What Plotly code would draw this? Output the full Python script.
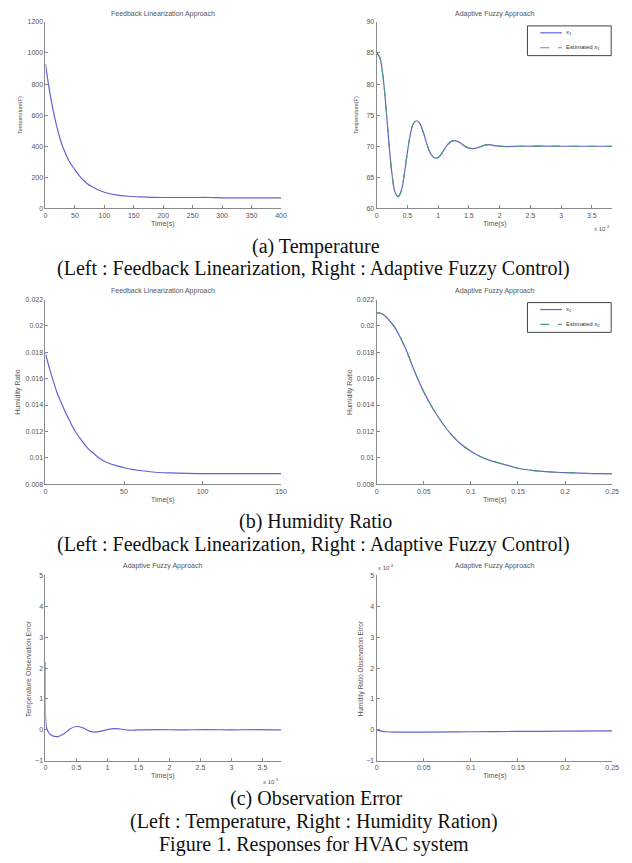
import plotly.graph_objects as go

# ---------------- data ----------------
# (a) left: feedback linearization temperature
fl_temp_t = [0, 5, 10, 15, 20, 25, 30, 40, 50, 60, 70, 80, 90, 100, 120, 140, 160, 180, 200, 250, 280, 300, 350, 400]
fl_temp_v = [930, 800, 690, 595, 515, 445, 390, 305, 248, 198, 162, 137, 118, 104, 87, 78, 74, 71, 70, 70, 70, 68, 68, 68]

# (a) right: adaptive fuzzy temperature (time in units of 1e-3)
af_temp_t = [0, 0.05, 0.1, 0.15, 0.2, 0.25, 0.3, 0.35, 0.4, 0.45, 0.5, 0.55, 0.6, 0.65, 0.7, 0.75, 0.8,
             0.85, 0.9, 0.95, 1.0, 1.05, 1.1, 1.15, 1.2, 1.27, 1.35, 1.45, 1.55, 1.65, 1.75, 1.83,
             1.95, 2.1, 2.3, 2.6, 3.0, 3.5, 3.83]
af_temp_x1 = [85, 84.3, 81.5, 76.5, 70.5, 65.5, 62.6, 61.9, 62.8, 65.5, 69, 72, 73.7, 74.1, 73.7, 72.5, 70.9,
              69.4, 68.5, 68.1, 68.2, 68.7, 69.5, 70.2, 70.7, 70.9, 70.6, 69.9, 69.6, 69.8, 70.15, 70.25,
              70.05, 69.95, 70.0, 70.02, 70.0, 70.0, 70.0]
af_temp_est = [85, 84.3, 81.5, 76.5, 70.5, 65.5, 62.6, 61.9, 62.8, 65.5, 69, 72, 73.7, 74.1, 73.7, 72.5, 70.9,
               69.4, 68.5, 68.1, 68.2, 68.7, 69.5, 70.2, 70.7, 70.9, 70.6, 69.9, 69.6, 69.8, 70.15, 70.25,
               70.05, 69.95, 70.0, 70.02, 70.0, 70.0, 70.0]

# (b) left: feedback linearization humidity ratio
fl_hum_t = [0, 2.5, 5, 7.5, 10, 12.5, 15, 17.5, 20, 22.5, 25, 27.5, 30, 35, 40, 45, 50, 55, 60, 70, 80,
            90, 100, 125, 150]
fl_hum_v = [0.0179, 0.0168, 0.0158, 0.0149, 0.0142, 0.0135, 0.0129, 0.0123, 0.0118, 0.0114, 0.0110,
            0.01065, 0.0104, 0.0099, 0.0096, 0.0094, 0.00925, 0.00912, 0.00903, 0.0089, 0.00885,
            0.00882, 0.0088, 0.0088, 0.0088]

# (b) right: adaptive fuzzy humidity ratio
af_hum_t = [0, 0.005, 0.01, 0.015, 0.02, 0.03, 0.04, 0.05, 0.06, 0.07, 0.08, 0.09, 0.1, 0.11, 0.12,
            0.13, 0.14, 0.15, 0.17, 0.19, 0.21, 0.23, 0.25]
af_hum_x2 = [0.0210, 0.02095, 0.0207, 0.0203, 0.0198, 0.0184, 0.0166, 0.0150, 0.0137, 0.0126, 0.0117,
             0.0110, 0.0105, 0.0101, 0.0098, 0.0096, 0.0094, 0.0092, 0.0090, 0.0089, 0.00885, 0.0088, 0.0088]
af_hum_est = [0.0210, 0.02095, 0.0207, 0.0203, 0.0198, 0.0184, 0.0166, 0.0150, 0.0137, 0.0126, 0.0117,
              0.0110, 0.0105, 0.0101, 0.0098, 0.0096, 0.0094, 0.0092, 0.0090, 0.0089, 0.00885, 0.0088, 0.0088]

# (c) left: temperature observation error (time in units of 1e-3)
err_temp_t = [0, 0.01, 0.03, 0.08, 0.18, 0.3, 0.4, 0.5, 0.6, 0.7, 0.8, 0.9, 1.0, 1.1, 1.2, 1.35, 1.5,
              1.8, 2.2, 2.6, 3.0, 3.4, 3.8]
err_temp_v = [2.2, 0.15, 0.0, -0.15, -0.22, -0.12, 0.04, 0.11, 0.07, -0.03, -0.07, -0.04, 0.01, 0.04,
              0.03, -0.01, 0.0, 0.01, 0.0, 0.01, 0.0, 0.01, 0.0]

# (c) right: humidity ratio observation error (units of 1e-4)
err_hum_t = [0, 0.005, 0.01, 0.02, 0.05, 0.1, 0.15, 0.2, 0.25]
err_hum_v = [0.0, -0.04, -0.06, -0.07, -0.07, -0.06, -0.05, -0.04, -0.03]

# tick labels
tl_x_ticks = [0, 50, 100, 150, 200, 250, 300, 350, 400]
tl_y_ticks = [0, 200, 400, 600, 800, 1000, 1200]
tr_x_ticks = [0, 0.5, 1, 1.5, 2, 2.5, 3, 3.5]
tr_y_ticks = [60, 65, 70, 75, 80, 85, 90]
hum_y_ticks = [0.008, 0.01, 0.012, 0.014, 0.016, 0.018, 0.02, 0.022]
hum_y_labels = ["0.008", "0.01", "0.012", "0.014", "0.016", "0.018", "0.02", "0.022"]
ml_x_ticks = [0, 50, 100, 150]
mr_x_ticks = [0, 0.05, 0.1, 0.15, 0.2, 0.25]
mr_x_labels = ["0", "0.05", "0.1", "0.15", "0.2", "0.25"]
err_y_ticks = [-1, 0, 1, 2, 3, 4, 5]

# ---------------- layout helpers ----------------
OFF = 8                      # page body margin of the html page
W, H = 632 - OFF, 863 - OFF  # figure size so that the page fits the window


def px(x):
    return (x - OFF) / W


def py(y):
    return 1 - (y - OFF) / H


BLUE = "#6262d4"
GREEN = "#4f9a74"
AX = "#8a8a8a"
TXT = "#555555"

fig = go.Figure()

# panel pixel boxes: (x0, x1, ytop, ybottom) in window pixels
panels = {
    "": (44, 283, 18, 206),
    "2": (380, 619, 18, 206),
    "3": (44, 283, 298, 484),
    "4": (380, 619, 298, 484),
    "5": (44, 283, 576, 763),
    "6": (380, 619, 576, 763),
}

fig.add_trace(go.Scatter(x=fl_temp_t, y=fl_temp_v, mode="lines", line=dict(color=BLUE, width=1.2, shape="spline"),
                         showlegend=False, xaxis="x", yaxis="y"))
fig.add_trace(go.Scatter(x=af_temp_t, y=af_temp_x1, mode="lines", name="x1",
                         line=dict(color=BLUE, width=1.2, shape="spline"), xaxis="x2", yaxis="y2", showlegend=False))
fig.add_trace(go.Scatter(x=af_temp_t, y=af_temp_est, mode="lines", name="Estimated x1",
                         line=dict(color=GREEN, width=1.1, dash="dash", shape="spline"), xaxis="x2", yaxis="y2",
                         showlegend=False))
fig.add_trace(go.Scatter(x=fl_hum_t, y=fl_hum_v, mode="lines", line=dict(color=BLUE, width=1.2, shape="spline"),
                         showlegend=False, xaxis="x3", yaxis="y3"))
fig.add_trace(go.Scatter(x=af_hum_t, y=af_hum_x2, mode="lines", name="x2",
                         line=dict(color=BLUE, width=1.2, shape="spline"), xaxis="x4", yaxis="y4", showlegend=False))
fig.add_trace(go.Scatter(x=af_hum_t, y=af_hum_est, mode="lines", name="Estimated x2",
                         line=dict(color=GREEN, width=1.1, dash="dash", shape="spline"), xaxis="x4", yaxis="y4",
                         showlegend=False))
fig.add_trace(go.Scatter(x=err_temp_t, y=err_temp_v, mode="lines", line=dict(color=BLUE, width=1.2, shape="spline"),
                         showlegend=False, xaxis="x5", yaxis="y5"))
fig.add_trace(go.Scatter(x=err_hum_t, y=err_hum_v, mode="lines", line=dict(color=BLUE, width=1.2, shape="spline"),
                         showlegend=False, xaxis="x6", yaxis="y6"))

axis_cfg = {
    "": dict(xr=[0, 400], xt=tl_x_ticks, xl=None, yr=[0, 1200], yt=tl_y_ticks, yl=None),
    "2": dict(xr=[0, 3.83], xt=tr_x_ticks, xl=None, yr=[60, 90], yt=tr_y_ticks, yl=None),
    "3": dict(xr=[0, 150], xt=ml_x_ticks, xl=None, yr=[0.008, 0.022], yt=hum_y_ticks, yl=hum_y_labels),
    "4": dict(xr=[0, 0.25], xt=mr_x_ticks, xl=mr_x_labels, yr=[0.008, 0.022], yt=hum_y_ticks, yl=hum_y_labels),
    "5": dict(xr=[0, 3.8], xt=tr_x_ticks, xl=None, yr=[-1, 5], yt=err_y_ticks, yl=None),
    "6": dict(xr=[0, 0.25], xt=mr_x_ticks, xl=mr_x_labels, yr=[-1, 5], yt=err_y_ticks, yl=None),
}

layout = dict(
    width=W, height=H,
    margin=dict(l=0, r=0, t=0, b=0),
    paper_bgcolor="white", plot_bgcolor="white",
    font=dict(family="Liberation Sans, Arial", size=7, color=TXT),
    showlegend=False,
)

for k, (x0, x1, yt_, yb_) in panels.items():
    c = axis_cfg[k]
    xa = dict(domain=[px(x0), px(x1)], range=c["xr"], tickvals=c["xt"], showgrid=False, zeroline=False,
              showline=True, linecolor=AX, linewidth=1, ticks="inside", ticklen=3, tickcolor=AX,
              tickfont=dict(size=7, color=TXT), anchor="y" + k, fixedrange=True)
    if c["xl"] is not None:
        xa["ticktext"] = c["xl"]
    ya = dict(domain=[py(yb_), py(yt_)], range=c["yr"], tickvals=c["yt"], showgrid=False, zeroline=False,
              showline=True, linecolor=AX, linewidth=1, ticks="inside", ticklen=3, tickcolor=AX,
              tickfont=dict(size=7, color=TXT), anchor="x" + k, fixedrange=True)
    if c["yl"] is not None:
        ya["ticktext"] = c["yl"]
    layout["xaxis" + k] = xa
    layout["yaxis" + k] = ya

ann = []
shapes = []


def text(x, y, s, size=7, angle=0, family=None, color=TXT, xanchor="center"):
    f = dict(size=size, color=color)
    if family:
        f["family"] = family
    ann.append(dict(x=px(x), y=py(y), xref="paper", yref="paper", text=s, showarrow=False, textangle=angle,
                    font=f, xanchor=xanchor, yanchor="middle"))


# legends (box, line samples, labels)
def legend(y0, y1, r1, r2, lab1, lab2):
    shapes.append(dict(type="rect", xref="paper", yref="paper", x0=px(533), x1=px(618), y0=py(y1), y1=py(y0),
                       line=dict(color="#444444", width=1), fillcolor="white", layer="above"))
    shapes.append(dict(type="line", xref="paper", yref="paper", x0=px(546), x1=px(568), y0=py(r1), y1=py(r1),
                       line=dict(color=BLUE, width=1.2), layer="above"))
    shapes.append(dict(type="line", xref="paper", yref="paper", x0=px(546), x1=px(568), y0=py(r2), y1=py(r2),
                       line=dict(color=GREEN, width=1.1, dash="dash"), layer="above"))
    text(570, r1, lab1, size=6, color="#333333", xanchor="left")
    text(570, r2, lab2, size=6, color="#333333", xanchor="left")


legend(22, 52, 29, 44, "x<sub>1</sub>", "Estimated x<sub>1</sub>")
legend(301, 331, 308, 323, "x<sub>2</sub>", "Estimated x<sub>2</sub>")

# panel titles
text(163, 10, "Feedback Linearization Approach")
text(500, 10, "Adaptive Fuzzy Approach")
text(163, 289, "Feedback Linearization Approach")
text(500, 289, "Adaptive Fuzzy Approach")
text(163, 567, "Adaptive Fuzzy Approach")
text(500, 567, "Adaptive Fuzzy Approach")

# x titles
for xc, yc in [(163, 222), (500, 222), (163, 500), (500, 500), (163, 778), (500, 778)]:
    text(xc, yc, "Time(s)")

# y titles
text(18, 112, "Temperature(F)", size=5.5, angle=-90)
text(359, 112, "Temperature(F)", size=5.5, angle=-90)
text(16, 391, "Humidity Ratio", angle=-90)
text(353, 391, "Humidity Ratio", angle=-90)
text(27, 670, "Temperature Observation Error", angle=-90)
text(364, 670, "Humidity Ratio Observation Error", size=6.5, angle=-90)

# exponent multipliers
text(609, 226, "x 10<sup>-3</sup>", size=6)
text(273, 783, "x 10<sup>-3</sup>", size=6)
text(390, 568, "x 10<sup>-4</sup>", size=6)

# captions
SERIF = "Liberation Serif, Times New Roman, serif"
CAP = "#111111"
CS = 20
text(318, 244, "(a) Temperature", size=CS, family=SERIF, color=CAP)
text(316, 267, "(Left : Feedback Linearization, Right : Adaptive Fuzzy Control)", size=CS, family=SERIF, color=CAP)
text(318, 522, "(b) Humidity Ratio", size=CS, family=SERIF, color=CAP)
text(316, 545, "(Left : Feedback Linearization, Right : Adaptive Fuzzy Control)", size=CS, family=SERIF, color=CAP)
text(318, 801, "(c) Observation Error", size=CS, family=SERIF, color=CAP)
text(316, 824, "(Left : Temperature, Right : Humidity Ration)", size=CS, family=SERIF, color=CAP)
text(316, 847, "Figure 1. Responses for HVAC system", size=CS, family=SERIF, color=CAP)

layout["annotations"] = ann
layout["shapes"] = shapes
fig.update_layout(**layout)
fig.write_html("out.html")
